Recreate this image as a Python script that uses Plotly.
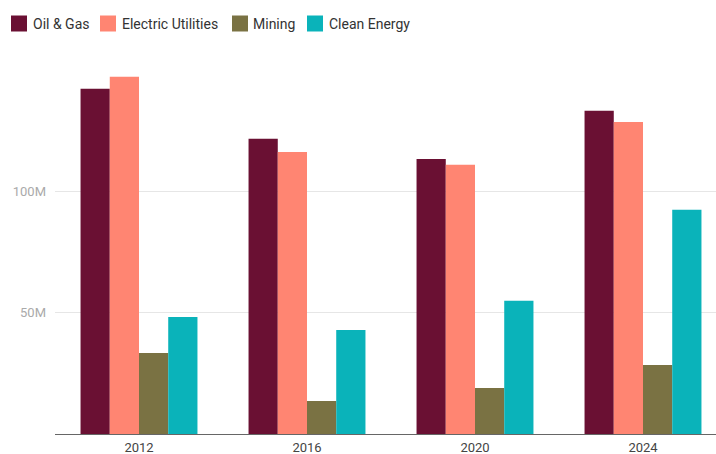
import plotly.graph_objects as go

years = ["2012", "2016", "2020", "2024"]
series_names = ["Oil & Gas", "Electric Utilities", "Mining", "Clean Energy"]
oil_gas = [142.6, 121.9, 113.6, 133.5]
electric = [147.5, 116.5, 111.2, 128.9]
mining = [33.5, 13.6, 19.0, 28.5]
clean = [48.3, 43.0, 55.0, 92.6]
colors = ["#6a1033", "#ff8572", "#7a7243", "#0ab3ba"]
ytick_vals = [50, 100]
ytick_text = ["50M", "100M"]

fig = go.Figure()
for name, vals, col in zip(series_names, [oil_gas, electric, mining, clean], colors):
    fig.add_trace(go.Bar(x=years, y=vals, name=name, showlegend=False,
                         marker=dict(color=col, line=dict(width=0))))

W, H = 716, 454
L, R, T, B = 55, 0, 72, 20
pw = W - L - R
ph = H - T - B
cat_w = 168.0

def px_x(p):
    return (p - L) / pw

def px_y(p):
    return (H - B - p) / ph

# custom legend (square swatches + labels)
legend_sq_x = [11, 100, 232, 307]
legend_txt_x = [31, 120, 251, 327]
sq = 16
cy = 23.5
for name, col, sx, tx in zip(series_names, colors, legend_sq_x, legend_txt_x):
    fig.add_shape(type="rect", xref="paper", yref="paper",
                  x0=px_x(sx), x1=px_x(sx + sq), y0=px_y(cy + sq / 2), y1=px_y(cy - sq / 2),
                  fillcolor=col, line=dict(width=0))
    fig.add_annotation(xref="paper", yref="paper", x=px_x(tx), y=px_y(cy),
                       xanchor="left", yanchor="middle", text=name, showarrow=False,
                       font=dict(family="Roboto", size=14, color="#333333"))

fig.update_layout(
    width=W, height=H,
    margin=dict(l=L, r=R, t=T, b=B, pad=0, autoexpand=False),
    paper_bgcolor="white", plot_bgcolor="white",
    font=dict(family="Roboto", size=13, color="#333333"),
    barmode="group", bargap=0.304, bargroupgap=0,
    showlegend=False,
    xaxis=dict(type="category", range=[-0.5, -0.5 + pw / cat_w], automargin=False,
               showgrid=False, showline=True, linecolor="#666666", linewidth=1,
               ticks="", tickfont=dict(size=13, color="#444444"), ticklabelstandoff=1),
    yaxis=dict(range=[0, 149.5], tickvals=ytick_vals, ticktext=ytick_text, automargin=False,
               showgrid=True, gridcolor="#e6e6e6", gridwidth=1, zeroline=False,
               showline=False, ticks="", tickfont=dict(size=13, color="#aaaaaa"),
               ticklabelstandoff=8),
)

fig.write_html("out.html")
